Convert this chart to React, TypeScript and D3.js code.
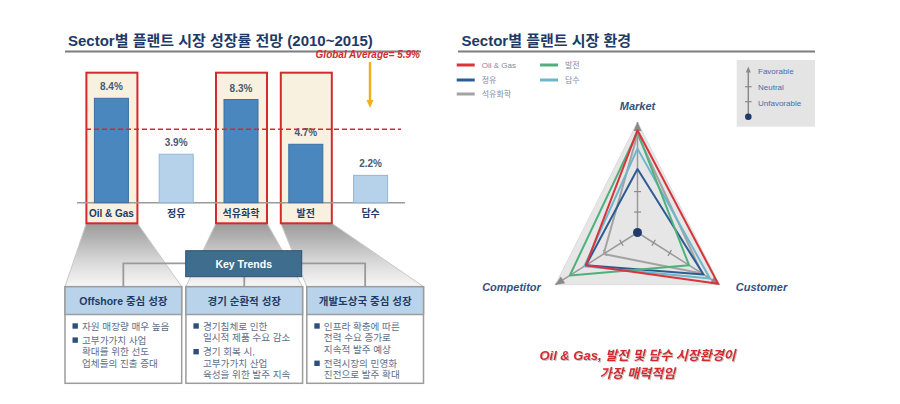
import React from 'react';
import * as d3 from 'd3';

// ---------- data ----------
const categories = ['Oil & Gas', '정유', '석유화학', '발전', '담수'];
const growth = [8.4, 3.9, 8.3, 4.7, 2.2];
const highlighted = ['Oil & Gas', '석유화학', '발전'];
const globalAverage = 5.9;

const radarAxes = ['Market', 'Customer', 'Competitor'];
const radarSeries = ['Oil & Gas', '정유', '석유화학', '발전', '담수'];
const marketScores = [5.0, 3.1, 4.8, 4.9, 4.1];
const customerScores = [5.0, 4.1, 4.0, 3.2, 4.5];
const competitorScores = [3.2, 3.2, 2.1, 4.2, 3.3];
const axisExtent = [5.4, 5.1, 5.1];
const ratingTicks = [1, 2];
const ratingLevels = ['Favorable', 'Neutral', 'Unfavorable'];

const trendHeaders = ['Offshore 중심 성장', '경기 순환적 성장', '개발도상국 중심 성장'];
const trendBullets = [
  [['자원 매장량 매우 높음'], ['고부가가치 사업', '확대를 위한 선도', '업체들의 진출 증대']],
  [['경기침체로 인한', '일시적 제품 수요 감소'], ['경기 회복 시,', '고부가가치 산업', '육성을 위한 발주 지속']],
  [['인프라 확충에 따른', '전력 수요 증가로', '지속적 발주 예상'], ['전력시장의 민영화', '진전으로 발주 확대']],
];

const seriesColors = ['#d8343c', '#2d5b93', '#a3a3a3', '#4fb07c', '#6db6cc'];
const drawOrder = [2, 4, 1, 3, 0];

const FONT = "'Liberation Sans', Arial, 'Noto Sans CJK KR', sans-serif";
const NAVY = '#1f3a66';
const RED = '#d42a2f';

export default function App() {
  // ----- bar chart -----
  const x = d3.scaleBand<string>().domain(categories).range([79, 403]).paddingInner(0.475).paddingOuter(0.2375);
  const y = d3.scaleLinear().domain([0, 10]).range([202.7, 78.4]);
  const bw = x.bandwidth();
  const boxBottom = 223.3;

  // trend boxes
  const trendX = d3.scaleBand<number>().domain([0, 1, 2]).range([65, 423.5]).paddingInner(0.035);
  const tw = trendX.bandwidth();
  const trendTop = 286.7;
  const headerBottom = 314.5;
  const trendBottom = 383.3;

  // ----- radar -----
  const cx = 637.5, cy = 232.5, sy = 1.1;
  const r = d3.scaleLinear().domain([0, 5]).range([0, 93]);
  const angles = [-90, 30, 150].map((a) => (a * Math.PI) / 180);
  const pt = (i: number, v: number): [number, number] => [cx + r(v) * Math.cos(angles[i]), cy + r(v) * Math.sin(angles[i]) * sy];
  const scores = [marketScores, customerScores, competitorScores];
  const line = d3.line().curve(d3.curveLinearClosed);
  const tips = radarAxes.map((_, i) => pt(i, axisExtent[i]));

  const arrowHead = (x1: number, y1: number, x2: number, y2: number, len: number, wid: number) => {
    const dx = x2 - x1, dy = y2 - y1;
    const L = Math.hypot(dx, dy);
    const ux = dx / L, uy = dy / L;
    const bx = x2 - ux * len, by = y2 - uy * len;
    return `M${x2},${y2}L${bx - uy * wid / 2},${by + ux * wid / 2}L${bx + uy * wid / 2},${by - ux * wid / 2}Z`;
  };

  const legendRows = [[0, 0], [1, 0], [2, 0], [3, 1], [4, 1]];
  const legendRowY = [65, 80, 94];

  return (
    <svg width={900} height={404} style={{ position: 'absolute', left: 0, top: 0, background: '#fff' }} fontFamily={FONT}>
      <defs>
        <linearGradient id="funnel" x1="0" y1="223" x2="0" y2="287" gradientUnits="userSpaceOnUse">
          <stop offset="0" stopColor="#9a9a9a" />
          <stop offset="0.6" stopColor="#d8d8d8" />
          <stop offset="1" stopColor="#f7f7f7" />
        </linearGradient>
        <filter id="shadow" x="-10%" y="-30%" width="120%" height="160%">
          <feDropShadow dx="1" dy="1" stdDeviation="0.6" floodColor="#888" floodOpacity="0.5" />
        </filter>
      </defs>

      {/* ================= LEFT PANEL ================= */}
      <text x={68} y={40} dominantBaseline="central" fontSize={15} fontWeight="bold" fill={NAVY}>
        Sector별 플랜트 시장 성장률 전망 (2010~2015)
      </text>
      <line x1={65} x2={421} y1={51.5} y2={51.5} stroke="#7d7d7d" strokeWidth={2} />

      {/* funnels */}
      {highlighted.map((c, i) => {
        const bx0 = (x(c) as number) - 8;
        const bx1 = (x(c) as number) + bw + 9;
        const tx0 = trendX(i) as number;
        const tx1 = tx0 + tw;
        return (
          <path key={'f' + c} d={`M${bx0},${boxBottom}L${bx1},${boxBottom}L${tx1},${trendTop}L${tx0},${trendTop}Z`}
            fill="url(#funnel)" stroke="#c8c8c8" strokeWidth={1} />
        );
      })}

      {/* highlight boxes */}
      {highlighted.map((c) => {
        const v = growth[categories.indexOf(c)];
        const top = Math.min(y(v) - 25, y(8.4) - 25.6);
        const bx0 = (x(c) as number) - 8;
        return (
          <rect key={'h' + c} x={bx0} y={top} width={bw + 17} height={boxBottom - top}
            fill="#f8f1e0" stroke={RED} strokeWidth={2} />
        );
      })}

      {/* baseline */}
      <line x1={77} x2={405} y1={y(0)} y2={y(0)} stroke="#9a9a9a" strokeWidth={1.5} />

      {/* bars */}
      {categories.map((c, i) => {
        const hi = highlighted.includes(c);
        return (
          <g key={'b' + c}>
            <rect x={x(c)} y={y(growth[i])} width={bw} height={y(0) - y(growth[i])}
              fill={hi ? '#4b87bf' : '#b5d2ea'} stroke={hi ? '#3a6fa3' : '#92b6d6'} strokeWidth={1} />
            <text x={(x(c) as number) + bw / 2} y={y(growth[i]) - 11.5} textAnchor="middle" dominantBaseline="central"
              fontSize={10} fontWeight="bold" fill="#4a5a70">{growth[i].toFixed(1)}%</text>
            <text x={(x(c) as number) + bw / 2} y={213.3} textAnchor="middle" dominantBaseline="central"
              fontSize={10} fontWeight="bold" fill={NAVY}>{c}</text>
          </g>
        );
      })}

      {/* global average */}
      <line x1={86} x2={401} y1={y(globalAverage)} y2={y(globalAverage)} stroke={RED} strokeWidth={1.5} strokeDasharray="5,3" />
      <text x={420} y={54} textAnchor="end" dominantBaseline="central" fontSize={10} fontWeight="bold" fontStyle="italic" fill={RED}>
        Global Average= {globalAverage}%
      </text>
      <line x1={370} x2={370} y1={62} y2={101} stroke="#f1b11f" strokeWidth={2.5} />
      <path d={arrowHead(370, 62, 370, 108, 8, 7)} fill="#f1b11f" />

      {/* connectors */}
      {(() => {
        const c0 = (trendX(0) as number) + tw / 2;
        const c1 = (trendX(1) as number) + tw / 2;
        const c2 = (trendX(2) as number) + tw / 2;
        return (
          <g stroke="#9a9a9a" strokeWidth={1.8} fill="none">
            <path d={`M${c0},${trendTop}V263.3H${c2}V${trendTop}`} />
            <path d={`M${c1},276.7V${trendTop}`} />
          </g>
        );
      })()}

      {/* key trends box */}
      <rect x={185.7} y={250.7} width={116} height={26} fill="#3e6d8e" stroke="#2b5272" strokeWidth={1} />
      <text x={243.7} y={264} textAnchor="middle" dominantBaseline="central" fontSize={10.5} fontWeight="bold" fill="#fff">Key Trends</text>

      {/* trend boxes */}
      {trendHeaders.map((h, i) => {
        const bx = trendX(i) as number;
        let ly = 326;
        const items: JSX.Element[] = [];
        trendBullets[i].forEach((lines, bi) => {
          if (bi > 0) ly += 2.5;
          items.push(<rect key={'sq' + bi} x={bx + 7.5} y={ly - 2.7} width={5.4} height={5.4} fill="#2d4f7e" />);
          lines.forEach((t, li) => {
            items.push(
              <text key={'t' + bi + '_' + li} x={bx + 17} y={ly} dominantBaseline="central" fontSize={9.6} fill="#5d6f88">{t}</text>
            );
            ly += 11.6;
          });
        });
        return (
          <g key={'tb' + i}>
            <rect x={bx} y={trendTop} width={tw} height={trendBottom - trendTop} fill="#fff" stroke="#9c9c9c" strokeWidth={1.5} />
            <rect x={bx} y={trendTop} width={tw} height={headerBottom - trendTop} fill="#b9d4ea" stroke="#9c9c9c" strokeWidth={1.5} />
            <text x={bx + tw / 2} y={301} textAnchor="middle" dominantBaseline="central" fontSize={10.5} fontWeight="bold" fill={NAVY}>{h}</text>
            {items}
          </g>
        );
      })}

      {/* ================= RIGHT PANEL ================= */}
      <text x={461.5} y={40} dominantBaseline="central" fontSize={15} fontWeight="bold" fill={NAVY}>Sector별 플랜트 시장 환경</text>
      <line x1={458} x2={815} y1={51.5} y2={51.5} stroke="#7d7d7d" strokeWidth={2} />

      {/* series legend */}
      {legendRows.map(([si, col], k) => {
        const lx = col === 0 ? 456.7 : 540;
        const ly = legendRowY[col === 0 ? si : si - 3];
        return (
          <g key={'lg' + k}>
            <line x1={lx} x2={lx + 18} y1={ly} y2={ly} stroke={seriesColors[si]} strokeWidth={3} />
            <text x={lx + 25} y={ly} dominantBaseline="central" fontSize={8} fill="#7d8aa0">{radarSeries[si]}</text>
          </g>
        );
      })}

      {/* rating legend */}
      <rect x={736.7} y={60} width={78.3} height={66.7} fill="#e4e4e4" />
      <line x1={748.3} x2={748.3} y1={72} y2={116} stroke="#8a8a8a" strokeWidth={1.5} />
      <path d={arrowHead(748.3, 80, 748.3, 66.5, 6, 5)} fill="#8a8a8a" />
      {[86.7, 101.7].map((ty) => (
        <line key={'rt' + ty} x1={745} x2={751.6} y1={ty} y2={ty} stroke="#8a8a8a" strokeWidth={1.2} />
      ))}
      <circle cx={748.3} cy={116.7} r={3.3} fill="#1f3a6b" />
      {ratingLevels.map((lv, i) => (
        <text key={lv} x={758} y={71.7 + i * 15.8} dominantBaseline="central" fontSize={8} fill="#4a6aa8">{lv}</text>
      ))}

      {/* radar background */}
      <path d={line(tips as [number, number][]) || ''} fill="#e6e6e6" stroke="#dcdcdc" strokeWidth={1} />

      {/* axes */}
      {radarAxes.map((a, i) => {
        const [tx, ty] = tips[i];
        return (
          <g key={'ax' + a}>
            <line x1={cx} y1={cy} x2={tx} y2={ty} stroke="#9a9a9a" strokeWidth={1.5} />
            <path d={arrowHead(cx, cy, tx, ty, 9, 8)} fill="#8a8a8a" />
            {ratingTicks.map((t) => {
              const [px, py] = pt(i, t);
              const ux = Math.cos(angles[i]), uy = Math.sin(angles[i]);
              return <line key={'tk' + t} x1={px - uy * 3.5} y1={py + ux * 3.5} x2={px + uy * 3.5} y2={py - ux * 3.5} stroke="#8a8a8a" strokeWidth={1.2} />;
            })}
          </g>
        );
      })}

      {/* series polygons */}
      {drawOrder.map((si) => (
        <path key={'poly' + si}
          d={line(radarAxes.map((_, i) => pt(i, scores[i][si])) as [number, number][]) || ''}
          fill="none" stroke={seriesColors[si]} strokeWidth={2} strokeLinejoin="round" />
      ))}
      <circle cx={cx} cy={cy} r={4.5} fill="#1f3a6b" />

      {/* axis labels */}
      <text x={cx} y={106} textAnchor="middle" dominantBaseline="central" fontSize={11} fontWeight="bold" fontStyle="italic" fill="#34507e">{radarAxes[0]}</text>
      <text x={761.5} y={286.7} textAnchor="middle" dominantBaseline="central" fontSize={11} fontWeight="bold" fontStyle="italic" fill="#34507e">{radarAxes[1]}</text>
      <text x={511.5} y={286.7} textAnchor="middle" dominantBaseline="central" fontSize={11} fontWeight="bold" fontStyle="italic" fill="#34507e">{radarAxes[2]}</text>

      {/* conclusion */}
      <g filter="url(#shadow)" fontSize={13} fontWeight="bold" fontStyle="italic" fill={RED}>
        <text x={637.5} y={355} textAnchor="middle" dominantBaseline="central">Oil &amp; Gas, 발전 및 담수 시장환경이</text>
        <text x={637.5} y={373.3} textAnchor="middle" dominantBaseline="central">가장 매력적임</text>
      </g>
    </svg>
  );
}
